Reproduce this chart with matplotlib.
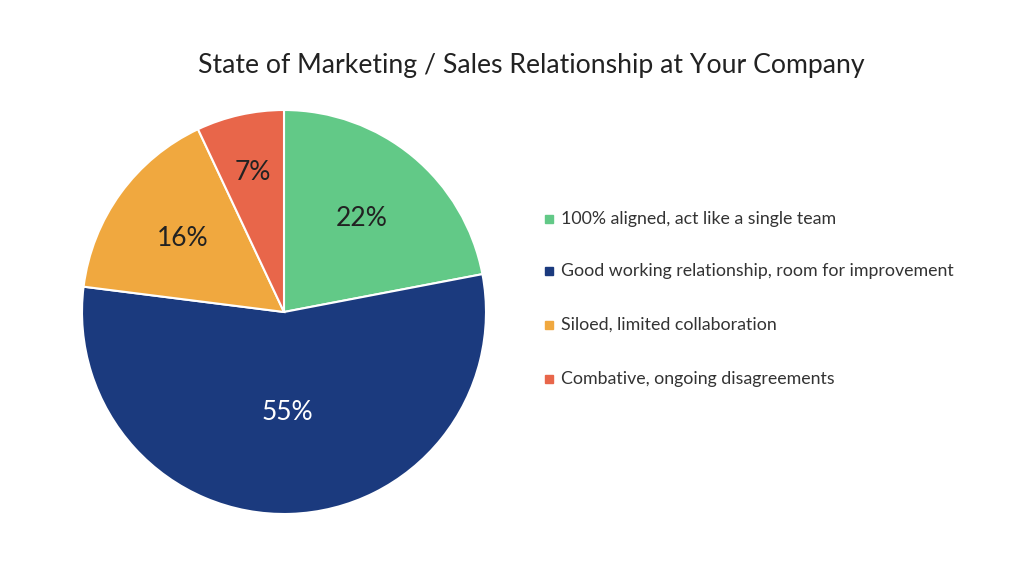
import matplotlib
matplotlib.use("Agg")
import matplotlib.pyplot as plt
import numpy as np

categories = ["100% aligned, act like a single team",
              "Good working relationship, room for improvement",
              "Siloed, limited collaboration",
              "Combative, ongoing disagreements"]
values = [22, 55, 16, 7]
colors = ["#62C987", "#1B3A7E", "#F0A83F", "#E8664A"]
label_colors = ["#222222", "white", "#222222", "#222222"]
label_dist = [0.6, 0.5, 0.62, 0.71]

plt.rcParams['font.family'] = ['Lato', 'DejaVu Sans']

fig = plt.figure(figsize=(10.24, 5.71), dpi=100)
ax = fig.add_axes([82/1024, 57/571, 404/1024, 404/571])
wedges, texts, autotexts = ax.pie(values, colors=colors, startangle=90, counterclock=False,
                                  autopct='%d%%', pctdistance=0.6,
                                  wedgeprops=dict(edgecolor='white', linewidth=1.5))
for w, t, d, c in zip(wedges, autotexts, label_dist, label_colors):
    ang = np.deg2rad((w.theta1 + w.theta2) / 2)
    t.set_position((d * np.cos(ang), d * np.sin(ang)))
    t.set_fontsize(19)
    t.set_color(c)
ax.set_xlim(-1, 1)
ax.set_ylim(-1, 1)
ax.set_aspect('equal')

fig.text(531/1024, 1 - 65/571, "State of Marketing / Sales Relationship at Your Company",
         ha='center', va='center', fontsize=19.2, color='#222222')

ys = [219, 271, 325, 379]
for cat, col, y in zip(categories, colors, ys):
    fig.patches.append(plt.Rectangle(((545)/1024, 1 - (y + 4)/571), 8/1024, 8/571,
                                     transform=fig.transFigure, color=col))
    fig.text(561/1024, 1 - y/571, cat, ha='left', va='center', fontsize=12.8, color='#333333')

fig.savefig("out.png", dpi=100)
